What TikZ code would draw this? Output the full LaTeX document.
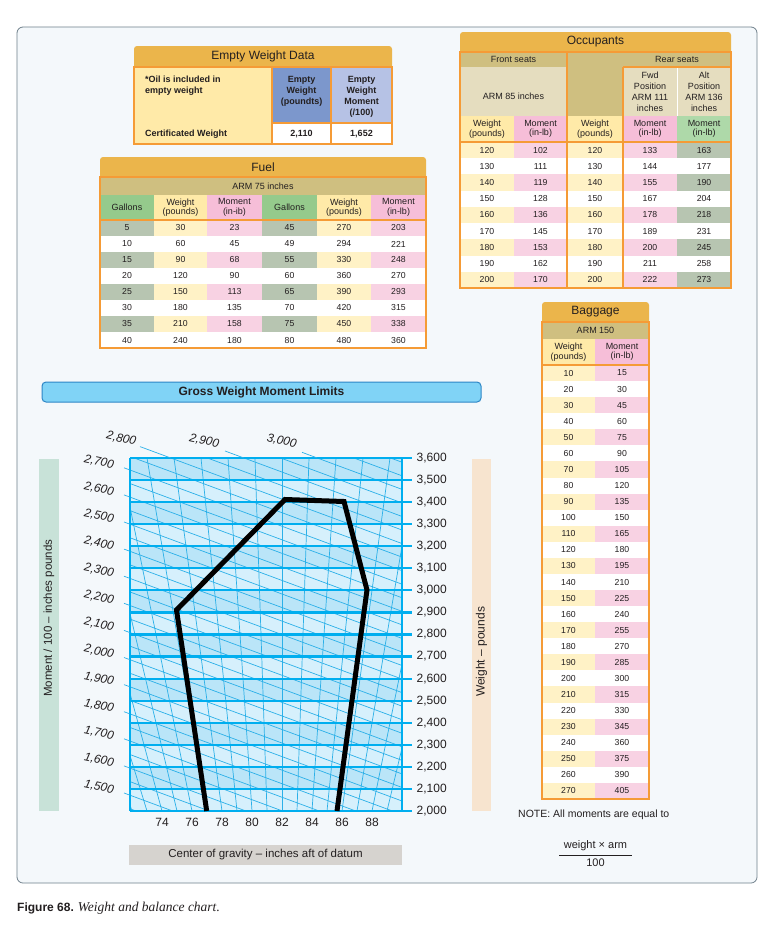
\documentclass[tikz,border=0pt]{standalone}
\usepackage{fontspec}
\setmainfont{Liberation Serif}
\setsansfont{Liberation Sans}
\definecolor{ink}{HTML}{231F20}
\definecolor{panel}{HTML}{F4F8FB}
\definecolor{framec}{HTML}{6E7F8A}
\definecolor{gold}{HTML}{EBB54B}
\definecolor{orng}{HTML}{F59B36}
\definecolor{khaki}{HTML}{CFBF80}
\definecolor{lkhaki}{HTML}{E5DDBF}
\definecolor{hylw}{HTML}{FFEAA8}
\definecolor{hpink}{HTML}{F6BED8}
\definecolor{hgreen}{HTML}{95CA8C}
\definecolor{hgreenb}{HTML}{AED9A9}
\definecolor{rylw}{HTML}{FFF2C6}
\definecolor{rpink}{HTML}{F8D2E3}
\definecolor{rgreen}{HTML}{B7C5B1}
\definecolor{blueA}{HTML}{7C97CC}
\definecolor{blueB}{HTML}{B6C2E5}
\definecolor{barfill}{HTML}{80D3F6}
\definecolor{bardraw}{HTML}{2D86C6}
\definecolor{bandD}{HTML}{BAE5F8}
\definecolor{bandL}{HTML}{D6F0FC}
\definecolor{cyanA}{HTML}{00AEEF}
\definecolor{cyanB}{HTML}{2BB0E8}
\definecolor{cgreen}{HTML}{C8E2D8}
\definecolor{cpeach}{HTML}{F7E4CF}
\definecolor{cgbox}{HTML}{D6D3CF}
\newcommand\tcell[8]{\fill[#6] (#2,#3) rectangle (#4,#5); \node[#8] (#1) at ({(#2+#4)/2},{(#3+#5)/2}) {#7};}
\tikzset{
 ttl/.style={font=\sffamily\fontsize{12}{13}\selectfont},
 hdr/.style={font=\sffamily\fontsize{9}{9.4}\selectfont, align=center},
 numc/.style={font=\sffamily\fontsize{8.7}{9}\selectfont},
 bhdr/.style={font=\sffamily\bfseries\fontsize{9}{11}\selectfont, align=center},
 posn/.style={font=\sffamily\fontsize{9}{11}\selectfont, align=center},
 axn/.style={font=\sffamily\fontsize{12}{13}\selectfont},
 mlab/.style={font=\sffamily\itshape\fontsize{12}{13}\selectfont, rotate=-12},
 obox/.style={draw=orng, line width=1.6},
 wline/.style={draw=cyanA, line width=2.2},
 gline/.style={draw=cyanB, line width=0.7},
}
\begin{document}
\begin{tikzpicture}[x=1pt,y=-1pt, every node/.style={inner sep=0pt, text=ink}]
\useasboundingbox (0,0) rectangle (773,929);
\fill[white] (0,0) rectangle (773,929);
\draw[draw=framec, fill=panel, rounded corners=6, line width=0.8] (17,27) rectangle (757,883);

% ---------------- Empty Weight Data
\fill[gold] (134,67) [rounded corners=3]-- (134,46) -- (392,46) [sharp corners]-- (392,67) -- cycle;
\node[ttl] (ewd) at (263,56.5) {Empty Weight Data};
\fill[hylw] (134,67) rectangle (272,144);
\fill[blueA] (272,67) rectangle (331,123);
\fill[blueB] (331,67) rectangle (392,123);
\fill[white] (272,123) rectangle (392,144);
\node[bhdr, align=left, anchor=north west] (oil) at (145,75.5) {*Oil is included in\\empty weight};
\node[bhdr, anchor=west] (cert) at (145,134.5) {Certificated Weight};
\node[bhdr] (ew) at (301.5,91) {Empty\\Weight\\(poundts)};
\node[bhdr] (ewm) at (361.5,96.5) {Empty\\Weight\\Moment\\(/100)};
\node[bhdr] (ewv) at (301.5,134) {2,110};
\node[bhdr] (ewmv) at (361.5,134) {1,652};
\draw[obox, line width=2] (134,67) rectangle (392,144) (272,67) -- (272,144) (331,67) -- (331,144) (272,123) -- (392,123);

% ---------------- Fuel
\fill[gold] (100,177) [rounded corners=3]-- (100,157) -- (426,157) [sharp corners]-- (426,177) -- cycle;
\node[ttl] (fuel) at (263,167) {Fuel};
\fill[white] (100,177) rectangle (426,348);
\tcell{farm}{100}{177}{426}{195}{khaki}{ARM 75 inches}{hdr}
\tcell{fh1}{100}{195}{154}{220}{hgreen}{Gallons}{hdr}
\tcell{fh2}{154}{195}{207}{220}{hylw}{Weight\\(pounds)}{hdr}
\tcell{fh3}{207}{195}{262}{220}{hpink}{Moment\\(in-ib)}{hdr}
\tcell{fh4}{262}{195}{317}{220}{hgreen}{Gallons}{hdr}
\tcell{fh5}{317}{195}{371}{220}{hylw}{Weight\\(pounds)}{hdr}
\tcell{fh6}{371}{195}{426}{220}{hpink}{Moment\\(in-lb)}{hdr}
\foreach \va/\vb/\vc/\vd/\ve/\vf [count=\i from 0] in {5/30/23/45/270/203, 10/60/45/49/294/221, 15/90/68/55/330/248, 20/120/90/60/360/270, 25/150/113/65/390/293, 30/180/135/70/420/315, 35/210/158/75/450/338, 40/240/180/80/480/360}{
  \pgfmathsetmacro\ya{220+16*\i}\pgfmathsetmacro\yb{\ya+16}
  \ifodd\i \def\cA{white}\def\cB{white}\def\cC{white}\else\def\cA{rgreen}\def\cB{rylw}\def\cC{rpink}\fi
  \tcell{f\i-a}{100}{\ya}{154}{\yb}{\cA}{\va}{numc}
  \tcell{f\i-b}{154}{\ya}{207}{\yb}{\cB}{\vb}{numc}
  \tcell{f\i-c}{207}{\ya}{262}{\yb}{\cC}{\vc}{numc}
  \tcell{f\i-d}{262}{\ya}{317}{\yb}{\cA}{\vd}{numc}
  \tcell{f\i-e}{317}{\ya}{371}{\yb}{\cB}{\ve}{numc}
  \tcell{f\i-f}{371}{\ya}{426}{\yb}{\cC}{\vf}{numc}
}
\draw[obox] (100,177) rectangle (426,348) (100,220) -- (426,220);

% ---------------- Occupants
\fill[gold] (460,52) [rounded corners=3]-- (460,32) -- (731,32) [sharp corners]-- (731,52) -- cycle;
\node[ttl] (occ) at (595.5,42) {Occupants};
\fill[white] (460,52) rectangle (731,288);
\tcell{ofs}{460}{52}{567}{67}{khaki}{Front seats}{hdr}
\fill[khaki] (567,52) rectangle (731,116);
\node[hdr] (ors) at (677,59.5) {Rear seats};
\fill[lkhaki] (460,67) rectangle (567,116);
\node[hdr] (oarm) at (513.5,96) {ARM 85 inches};
\tcell{ofwd}{623}{67}{677}{116}{lkhaki}{Fwd\\Position\\ARM 111\\inches}{posn}
\tcell{oalt}{677}{67}{731}{116}{lkhaki}{Alt\\Position\\ARM 136\\inches}{posn}
\draw[white, line width=1] (677,68) -- (677,116);
\tcell{oh1}{460}{116}{514}{142}{hylw}{Weight\\(pounds)}{hdr}
\tcell{oh2}{514}{116}{567}{142}{hpink}{Moment\\(in-lb)}{hdr}
\tcell{oh3}{567}{116}{623}{142}{hylw}{Weight\\(pounds)}{hdr}
\tcell{oh4}{623}{116}{677}{142}{hpink}{Moment\\(in-lb)}{hdr}
\tcell{oh5}{677}{116}{731}{142}{hgreenb}{Moment\\(in-lb)}{hdr}
\foreach \va/\vb/\vc/\vd [count=\i from 0] in {120/102/133/163, 130/111/144/177, 140/119/155/190, 150/128/167/204, 160/136/178/218, 170/145/189/231, 180/153/200/245, 190/162/211/258, 200/170/222/273}{
  \pgfmathsetmacro\ya{142+16.222*\i}\pgfmathsetmacro\yb{\ya+16.222}
  \ifodd\i \def\cA{white}\def\cB{white}\def\cC{white}\else\def\cA{rylw}\def\cB{rpink}\def\cC{rgreen}\fi
  \tcell{o\i-a}{460}{\ya}{514}{\yb}{\cA}{\va}{numc}
  \tcell{o\i-b}{514}{\ya}{567}{\yb}{\cB}{\vb}{numc}
  \tcell{o\i-c}{567}{\ya}{623}{\yb}{\cA}{\va}{numc}
  \tcell{o\i-d}{623}{\ya}{677}{\yb}{\cB}{\vc}{numc}
  \tcell{o\i-e}{677}{\ya}{731}{\yb}{\cC}{\vd}{numc}
}
\draw[obox] (460,52) rectangle (731,288) (567,52) -- (567,288) (623,67) -- (623,288) (623,67) -- (731,67) (460,142) -- (731,142);

% ---------------- Baggage
\fill[gold] (542,322) [rounded corners=3]-- (542,302) -- (649,302) [sharp corners]-- (649,322) -- cycle;
\node[ttl] (bag) at (595.5,312) {Baggage};
\fill[white] (542,322) rectangle (649,799);
\tcell{barm}{542}{322}{649}{339}{khaki}{ARM 150}{hdr}
\tcell{bh1}{542}{339}{595}{365}{hylw}{Weight\\(pounds)}{hdr}
\tcell{bh2}{595}{339}{649}{365}{hpink}{Moment\\(in-lb)}{hdr}
\foreach \i in {0,...,26}{
  \pgfmathsetmacro\ya{365+16.074*\i}\pgfmathsetmacro\yb{\ya+16.074}
  \pgfmathtruncatemacro\vw{10*(\i+1)}\pgfmathtruncatemacro\vm{15*(\i+1)}
  \ifodd\i \def\cA{white}\def\cB{white}\else\def\cA{rylw}\def\cB{rpink}\fi
  \tcell{b\i-a}{542}{\ya}{595}{\yb}{\cA}{\vw}{numc}
  \tcell{b\i-b}{595}{\ya}{649}{\yb}{\cB}{\vm}{numc}
}
\draw[obox] (542,322) rectangle (649,799) (542,365) -- (649,365);

\node[font=\sffamily\fontsize{10.5}{12}\selectfont, anchor=west] (note) at (518,815) {NOTE: All moments are equal to};
\node[font=\sffamily\fontsize{11}{12}\selectfont] (fnum) at (595.5,846) {weight × arm};
\node[font=\sffamily\fontsize{11}{12}\selectfont] (fden) at (595.5,863) {100};
\draw[ink, line width=0.8] (559,855) -- (632,855);

% ---------------- Chart
\draw[draw=bardraw, fill=barfill, rounded corners=4, line width=1] (42,382) rectangle (481,402);
\node[font=\sffamily\bfseries\fontsize{12}{13}\selectfont] (gwml) at (261.5,392) {Gross Weight Moment Limits};
\fill[cgreen] (39,459) rectangle (59,811);
\fill[cpeach] (472,459) rectangle (491,811);
\node[font=\sffamily\fontsize{11.5}{12}\selectfont, rotate=90, anchor=west] (mtitle) at (49,697) {Moment / 100 – inches pounds};
\node[font=\sffamily\fontsize{12}{13}\selectfont, rotate=90, anchor=west] (wtitle) at (481.5,697) {Weight – pounds};

\begin{scope}
\clip (130,458) rectangle (402,811);
\fill[bandL] (130,458) rectangle (402,811);
\foreach \j in {1,3,...,15}{
  \pgfmathsetmacro\ylo{811-22.0625*\j}
  \fill[bandD] (130,\ylo) rectangle (402,\ylo-22.0625);
}
\foreach \k in {-3,...,17}{
  \draw[gline] ({162+15*\k},811) -- ({282+(162+15*\k-282)*1.8},458);
}
\foreach \n in {-1,...,35}{
  \pgfmathsetmacro\yl{795.2-13.55*\n}
  \draw[gline] (130,\yl) -- (402,\yl+100.64);
}
\end{scope}

\foreach \j/\lab in {0/{2,000},1/{2,100},2/{2,200},3/{2,300},4/{2,400},5/{2,500},6/{2,600},7/{2,700},8/{2,800},9/{2,900},10/{3,000},11/{3,100},12/{3,200},13/{3,300},14/{3,400},15/{3,500},16/{3,600}}{
  \pgfmathsetmacro\yw{811-22.0625*\j}
  \draw[wline] (130,\yw) -- (412,\yw);
  \node[axn, anchor=west] (w\j) at (416.5,\yw) {\lab};
}
\draw[draw=cyanA, line width=1.5] (130,458) -- (130,811) (402,458) -- (402,811);

\foreach \m/\lab in {15/{1,500},16/{1,600},17/{1,700},18/{1,800},19/{1,900},20/{2,000},21/{2,100},22/{2,200},23/{2,300},24/{2,400},25/{2,500},26/{2,600},27/{2,700}}{
  \pgfmathsetmacro\yl{470+(27-\m)*27.1}
  \draw[gline] (124,\yl-2.2) -- (130,\yl);
  \node[mlab] (m\m) at (99,\yl-8) {\lab};
}
\draw[gline] (140,446.6) -- (170.8,458);
\node[mlab] (m28) at (121.3,438.7) {2,800};
\draw[gline] (225,451) -- (244,458);
\node[mlab] (m29) at (204.3,441) {2,900};
\draw[gline] (302,452.3) -- (317.3,458);
\node[mlab] (m30) at (281.7,441.3) {3,000};

\draw[black, line width=5, line join=miter] (206.7,811) -- (176.5,610) -- (285,499.5) -- (344,501.5) -- (367,590) -- (337,811);

\foreach \c in {74,76,...,88}{
  \node[axn] (cg\c) at ({162+15*(\c-74)},822.7) {\c};
}
\fill[cgbox] (129,845) rectangle (402,865);
\node[font=\sffamily\fontsize{11.5}{12}\selectfont] (cgt) at (265.5,855) {Center of gravity – inches aft of datum};

% ---------------- Caption
\node[anchor=base west] (cap) at (17,911) {{\sffamily\bfseries\fontsize{12}{14}\selectfont Figure 68.}\hspace{4pt}{\rmfamily\itshape\fontsize{13.5}{15}\selectfont Weight and balance chart.}};
\end{tikzpicture}
\end{document}
